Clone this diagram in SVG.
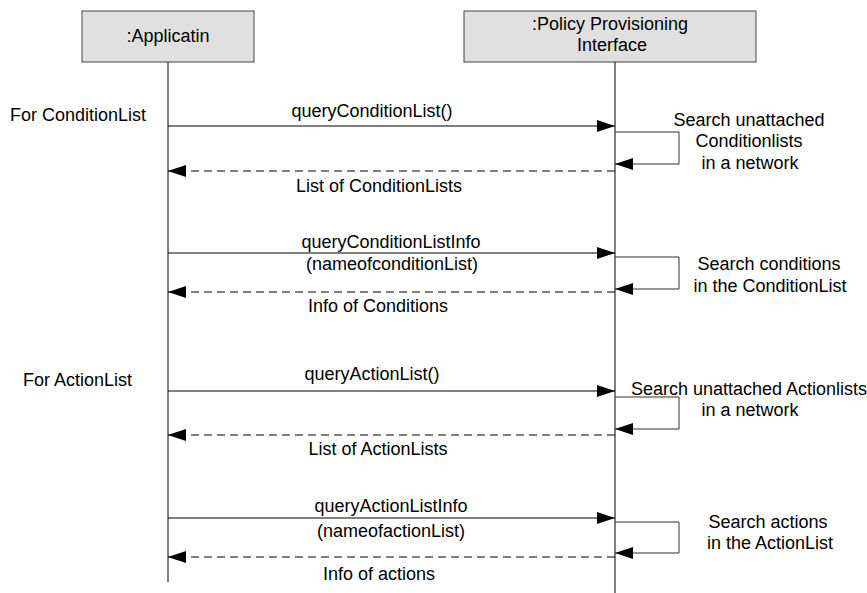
<svg xmlns="http://www.w3.org/2000/svg" width="867" height="593" viewBox="0 0 867 593">
<style>
text{font-family:"Liberation Sans",Arial,sans-serif;font-size:18px;fill:#000}
.c{text-anchor:middle}
.box{fill:#e0e0e0;stroke:#444;stroke-width:1}
.life{stroke:#000;stroke-width:1;fill:none}
.msg{stroke:#000;stroke-width:1;fill:none;marker-end:url(#ah)}
.ret{stroke:#000;stroke-width:1;fill:none;stroke-dasharray:8 5;marker-end:url(#ah)}
.loop{stroke:#333;stroke-width:1;fill:none;marker-end:url(#ah)}
</style>
<defs>
<marker id="ah" viewBox="0 0 18 12" refX="18" refY="6" markerWidth="18" markerHeight="12" orient="auto" markerUnits="userSpaceOnUse"><path d="M0,0 L18,6 L0,12 z" fill="#000"/></marker>
</defs>
<rect width="867" height="593" fill="#fff"/>
<g id="app">
<rect class="box" x="82" y="11" width="172" height="51"/>
<text class="c" x="168" y="42">:Applicatin</text>
<line class="life" x1="168" y1="62" x2="168" y2="582"/>
</g>
<g id="ppi">
<rect class="box" x="464" y="11" width="292" height="51"/>
<text class="c" x="610" y="30">:Policy Provisioning</text>
<text class="c" x="612" y="51">Interface</text>
<line class="life" x1="615" y1="62" x2="615" y2="593"/>
</g>
<g id="labels">
<text x="10" y="121">For ConditionList</text>
<text x="23" y="386">For ActionList</text>
</g>
<g id="connectors">
<line class="msg" x1="168" y1="126" x2="615" y2="126"/>
<polyline class="loop" points="615,132 679,132 679,164 615,164"/>
<line class="ret" x1="615" y1="171" x2="168" y2="171"/>
<line class="msg" x1="168" y1="253" x2="615" y2="253"/>
<polyline class="loop" points="615,257 679,257 679,289 615,289"/>
<line class="ret" x1="615" y1="292" x2="168" y2="292"/>
<line class="msg" x1="168" y1="391" x2="615" y2="391"/>
<polyline class="loop" points="615,397 679,397 679,429 615,429"/>
<line class="ret" x1="615" y1="435" x2="168" y2="435"/>
<line class="msg" x1="168" y1="518" x2="615" y2="518"/>
<polyline class="loop" points="615,522 679,522 679,553 615,553"/>
<line class="ret" x1="615" y1="557" x2="168" y2="557"/>
</g>
<g id="connector-labels">
<text class="c" x="372" y="117">queryConditionList()</text>
<text class="c" x="749" y="126">Search unattached</text>
<text class="c" x="749" y="147">Conditionlists</text>
<text class="c" x="750" y="169">in a network</text>
<text class="c" x="379" y="192">List of ConditionLists</text>
<text class="c" x="391" y="248">queryConditionListInfo</text>
<text class="c" x="392" y="270">(nameofconditionList)</text>
<text class="c" x="769" y="270">Search conditions</text>
<text class="c" x="770" y="292">in the ConditionList</text>
<text class="c" x="378" y="312">Info of Conditions</text>
<text class="c" x="372" y="380">queryActionList()</text>
<text class="c" x="749" y="395">Search unattached Actionlists</text>
<text class="c" x="750" y="416">in a network</text>
<text class="c" x="378" y="455">List of ActionLists</text>
<text class="c" x="391" y="512">queryActionListInfo</text>
<text class="c" x="391" y="537">(nameofactionList)</text>
<text class="c" x="768" y="528">Search actions</text>
<text class="c" x="770" y="549">in the ActionList</text>
<text class="c" x="379" y="580">Info of actions</text>
</g>
</svg>
